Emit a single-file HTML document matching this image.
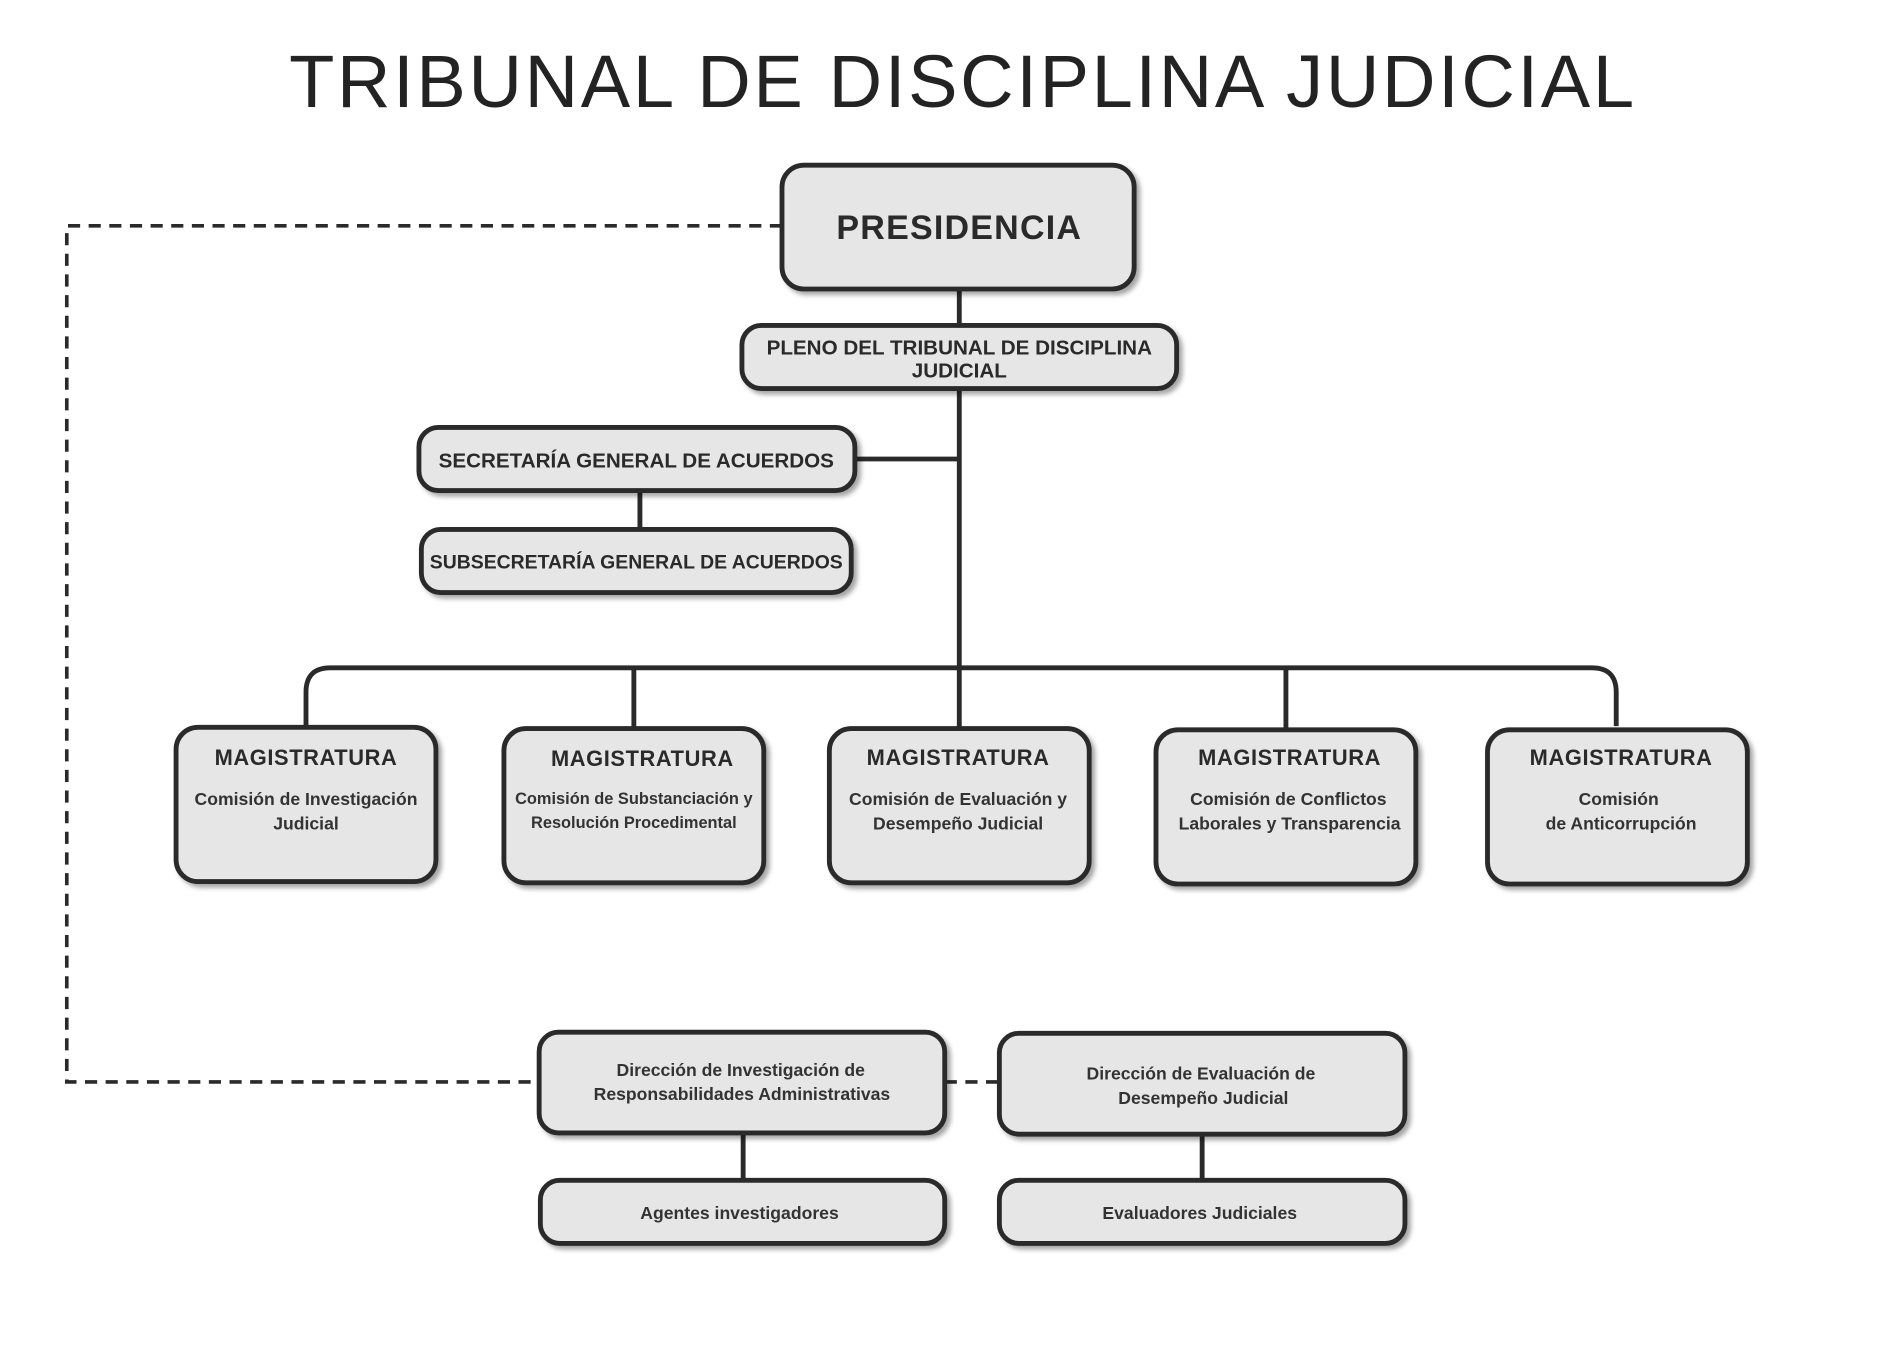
<!DOCTYPE html>
<html><head><meta charset="utf-8"><style>
html,body{margin:0;padding:0;background:#fff;}
svg{display:block;}
text{font-family:"Liberation Sans",sans-serif;fill:#2a2a2a;text-anchor:middle;}
.b{fill:#e6e6e6;stroke:#2a2a2a;stroke-width:4;filter:url(#sh);}
.l{stroke:#2a2a2a;stroke-width:4;fill:none;}
.d{stroke:#2a2a2a;stroke-width:3;fill:none;stroke-dasharray:10 7;}
.h{font-weight:bold;font-size:17px;}
.m{font-weight:bold;font-size:18px;letter-spacing:0.5px;}
.s{font-size:14.5px;font-weight:bold;fill:#333;}
</style></head><body>
<svg width="1904" height="1360" viewBox="0 0 1568 1120" preserveAspectRatio="none">
<defs><filter id="sh" x="-10%" y="-10%" width="130%" height="140%"><feDropShadow dx="3" dy="3" stdDeviation="2" flood-color="#000" flood-opacity="0.35"/></filter></defs>
<text x="793" y="88" style="font-size:61px;letter-spacing:2.2px;fill:#232323">TRIBUNAL DE DISCIPLINA JUDICIAL</text>
<path class="d" d="M644 186 H55 V891 H444"/>
<path class="d" d="M778 891 H823"/>
<path class="l" d="M790 238 V550"/>
<path class="l" d="M704 378 H790"/>
<path class="l" d="M527 404 V436"/>
<path class="l" d="M252 598 V570 Q252 550 272 550 H1311 Q1331 550 1331 570 V598"/>
<path class="l" d="M522 550 V600 M790 550 V600 M1059 550 V601"/>
<path class="l" d="M612 933 V972 M990 934 V972"/>
<rect class="b" x="644" y="136" width="290" height="102" rx="18"/>
<text x="790" y="197" style="font-weight:bold;font-size:28px;letter-spacing:1px">PRESIDENCIA</text>
<rect class="b" x="611" y="268" width="358" height="52" rx="16"/>
<text class="h" x="790" y="292">PLENO DEL TRIBUNAL DE DISCIPLINA</text>
<text class="h" x="790" y="311">JUDICIAL</text>
<rect class="b" x="345" y="352" width="359" height="52" rx="16"/>
<text class="h" x="524" y="385">SECRETARÍA GENERAL DE ACUERDOS</text>
<rect class="b" x="347" y="436" width="354" height="52" rx="16"/>
<text class="h" x="524" y="468" style="font-size:16px">SUBSECRETARÍA GENERAL DE ACUERDOS</text>
<rect class="b" x="145" y="599" width="214" height="127" rx="18"/>
<text class="m" x="252" y="630">MAGISTRATURA</text>
<text class="s" x="252" y="663">Comisión de Investigación</text>
<text class="s" x="252" y="683">Judicial</text>
<rect class="b" x="415" y="600" width="214" height="127" rx="18"/>
<text class="m" x="529" y="631">MAGISTRATURA</text>
<text class="s" x="522" y="662" style="font-size:13.5px">Comisión de Substanciación y</text>
<text class="s" x="522" y="682" style="font-size:13.5px">Resolución Procedimental</text>
<rect class="b" x="683" y="600" width="214" height="127" rx="18"/>
<text class="m" x="789" y="630">MAGISTRATURA</text>
<text class="s" x="789" y="663">Comisión de Evaluación y</text>
<text class="s" x="789" y="683">Desempeño Judicial</text>
<rect class="b" x="952" y="601" width="214" height="127" rx="18"/>
<text class="m" x="1062" y="630">MAGISTRATURA</text>
<text class="s" x="1061" y="663">Comisión de Conflictos</text>
<text class="s" x="1062" y="683">Laborales y Transparencia</text>
<rect class="b" x="1225" y="601" width="214" height="127" rx="18"/>
<text class="m" x="1335" y="630">MAGISTRATURA</text>
<text class="s" x="1333" y="663">Comisión</text>
<text class="s" x="1335" y="683">de Anticorrupción</text>
<rect class="b" x="444" y="850" width="334" height="83" rx="16"/>
<text class="s" x="610" y="886">Dirección de Investigación de</text>
<text class="s" x="611" y="906">Responsabilidades Administrativas</text>
<rect class="b" x="823" y="851" width="334" height="83" rx="16"/>
<text class="s" x="989" y="889">Dirección de Evaluación de</text>
<text class="s" x="991" y="909">Desempeño Judicial</text>
<rect class="b" x="445" y="972" width="333" height="52" rx="16"/>
<text class="s" x="609" y="1004">Agentes investigadores</text>
<rect class="b" x="823" y="972" width="334" height="52" rx="16"/>
<text class="s" x="988" y="1004">Evaluadores Judiciales</text>
</svg>
</body></html>
